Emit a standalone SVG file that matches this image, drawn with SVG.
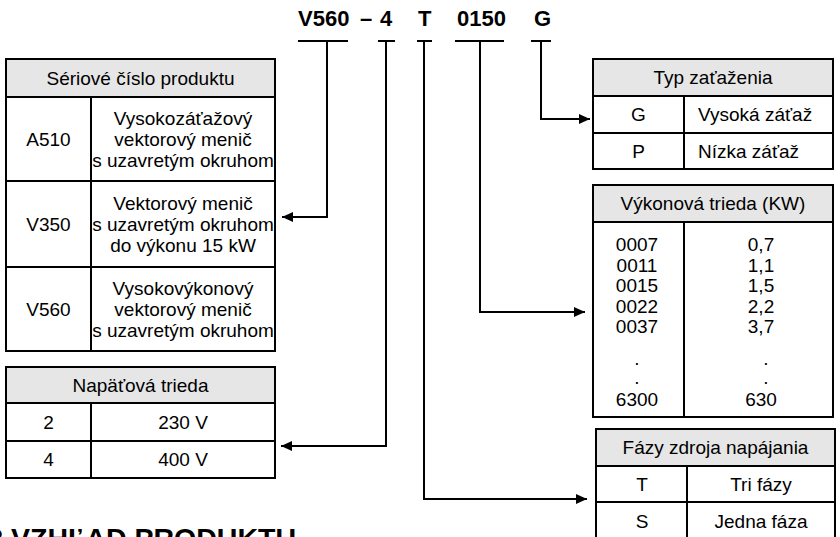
<svg xmlns="http://www.w3.org/2000/svg" width="840" height="537" viewBox="0 0 840 537">
<style>
text{font-family:"Liberation Sans",Arial,sans-serif;font-size:19px;fill:#000}
.c{text-anchor:middle}
.title{font-weight:bold;font-size:22px}
.head{font-weight:bold;font-size:28.5px}
.hdr{fill:#e6e6e6;stroke:none}
.box{fill:none;stroke:#000;stroke-width:2}
.ln{stroke:#000;stroke-width:2;fill:none}
.con{stroke:#000;stroke-width:2;fill:none}
</style>
<defs>
<marker id="ah" markerUnits="userSpaceOnUse" markerWidth="12" markerHeight="10" refX="11" refY="5" orient="auto">
<path d="M0,0 L11,5 L0,10 Z" fill="#000"/>
</marker>
</defs>
<rect width="840" height="537" fill="#fff"/>

<g id="code">
<text class="title" y="25.5"><tspan x="298">V560</tspan><tspan x="360">–</tspan><tspan x="380">4</tspan><tspan x="418">T</tspan><tspan x="457">0150</tspan><tspan x="534">G</tspan></text>
</g>

<g id="connectors">
<line class="con" x1="298" y1="41" x2="348" y2="41"/>
<polyline class="con" points="327,41 327,217 282,217" marker-end="url(#ah)"/>
<line class="con" x1="378" y1="41" x2="395" y2="41"/>
<polyline class="con" points="386,41 386,446 281,446" marker-end="url(#ah)"/>
<line class="con" x1="417" y1="41" x2="432" y2="41"/>
<polyline class="con" points="424,41 424,499 587,499" marker-end="url(#ah)"/>
<line class="con" x1="455" y1="41" x2="504" y2="41"/>
<polyline class="con" points="480,41 480,312 585,312" marker-end="url(#ah)"/>
<line class="con" x1="531" y1="41" x2="551" y2="41"/>
<polyline class="con" points="541,41 541,119 590,119" marker-end="url(#ah)"/>
</g>

<g id="seriove">
<rect class="hdr" x="6" y="59" width="269" height="38"/>
<rect class="box" x="6" y="59" width="269" height="292"/>
<line class="ln" x1="6" y1="97" x2="275" y2="97"/>
<line class="ln" x1="6" y1="181" x2="275" y2="181"/>
<line class="ln" x1="6" y1="267" x2="275" y2="267"/>
<line class="ln" x1="91" y1="97" x2="91" y2="351"/>
<text class="c" x="140.5" y="85">Sériové číslo produktu</text>
<text class="c" x="48.5" y="146">A510</text>
<text class="c" x="183" y="125">Vysokozáťažový</text>
<text class="c" x="183" y="146">vektorový menič</text>
<text class="c" x="183" y="167">s uzavretým okruhom</text>
<text class="c" x="48.5" y="231">V350</text>
<text class="c" x="183" y="210">Vektorový menič</text>
<text class="c" x="183" y="231">s uzavretým okruhom</text>
<text class="c" x="183" y="252">do výkonu 15 kW</text>
<text class="c" x="48.5" y="316">V560</text>
<text class="c" x="183" y="295">Vysokovýkonový</text>
<text class="c" x="183" y="316">vektorový menič</text>
<text class="c" x="183" y="337">s uzavretým okruhom</text>
</g>

<g id="napatova">
<rect class="hdr" x="6" y="367" width="269" height="36"/>
<rect class="box" x="6" y="367" width="269" height="111"/>
<line class="ln" x1="6" y1="403" x2="275" y2="403"/>
<line class="ln" x1="6" y1="441" x2="275" y2="441"/>
<line class="ln" x1="91" y1="403" x2="91" y2="478"/>
<text class="c" x="140.5" y="392">Napäťová trieda</text>
<text class="c" x="48.5" y="429">2</text>
<text class="c" x="183" y="429">230 V</text>
<text class="c" x="48.5" y="466">4</text>
<text class="c" x="183" y="466">400 V</text>
</g>

<g id="typ">
<rect class="hdr" x="593" y="59" width="240" height="37"/>
<rect class="box" x="593" y="59" width="240" height="110"/>
<line class="ln" x1="593" y1="96" x2="833" y2="96"/>
<line class="ln" x1="593" y1="133" x2="833" y2="133"/>
<line class="ln" x1="684" y1="96" x2="684" y2="169"/>
<text class="c" x="713" y="84">Typ zaťaženia</text>
<text class="c" x="638.5" y="121">G</text>
<text x="698" y="121">Vysoká záťaž</text>
<text class="c" x="638.5" y="158">P</text>
<text x="698" y="158">Nízka záťaž</text>
</g>

<g id="vykonova">
<rect class="hdr" x="593" y="185" width="240" height="37"/>
<rect class="box" x="593" y="185" width="240" height="232"/>
<line class="ln" x1="593" y1="222" x2="833" y2="222"/>
<line class="ln" x1="684" y1="222" x2="684" y2="417"/>
<text class="c" x="713" y="210">Výkonová trieda (KW)</text>
<text class="c" x="637" y="251">0007</text>
<text class="c" x="761" y="251">0,7</text>
<text class="c" x="637" y="271.5">0011</text>
<text class="c" x="761" y="271.5">1,1</text>
<text class="c" x="637" y="292">0015</text>
<text class="c" x="761" y="292">1,5</text>
<text class="c" x="637" y="312.5">0022</text>
<text class="c" x="761" y="312.5">2,2</text>
<text class="c" x="637" y="333">0037</text>
<text class="c" x="761" y="333">3,7</text>
<text class="c" x="637" y="365">.</text>
<text class="c" x="766" y="365">.</text>
<text class="c" x="637" y="384">.</text>
<text class="c" x="766" y="384">.</text>
<text class="c" x="637" y="406">6300</text>
<text class="c" x="761" y="406">630</text>
</g>

<g id="fazy">
<rect class="hdr" x="596" y="429" width="239" height="37"/>
<rect class="box" x="596" y="429" width="239" height="130"/>
<line class="ln" x1="596" y1="466" x2="835" y2="466"/>
<line class="ln" x1="596" y1="502" x2="835" y2="502"/>
<line class="ln" x1="687" y1="466" x2="687" y2="559"/>
<text class="c" x="715.5" y="454">Fázy zdroja napájania</text>
<text class="c" x="642" y="491">T</text>
<text class="c" x="761" y="491">Tri fázy</text>
<text class="c" x="642" y="528">S</text>
<text class="c" x="761" y="528">Jedna fáza</text>
</g>

<text class="head" x="-12.8" y="548">2 VZHĽAD PRODUKTU</text>
</svg>
